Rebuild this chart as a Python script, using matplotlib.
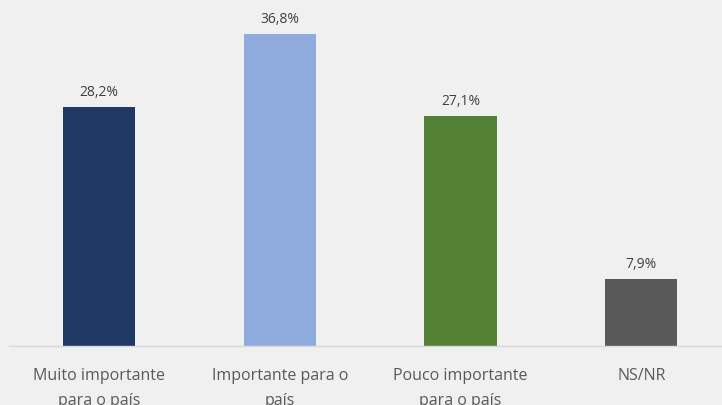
import matplotlib.pyplot as plt
import numpy as np

# dados
categorias = ["Muito importante\npara o país", "Importante para o\npaís",
              "Pouco importante\npara o país", "NS/NR"]
valores = [28.2, 36.8, 27.1, 7.9]
cores = ["#203864", "#8faadc", "#548235", "#595959"]

plt.rcParams['font.family'] = ['Open Sans', 'DejaVu Sans']

fig = plt.figure(figsize=(7.22, 4.05), dpi=100, facecolor="#f0f0f0")
ax = fig.add_axes([8.7 / 722, 59 / 405, 723 / 722, 339 / 405])
ax.set_facecolor("#f0f0f0")

x = np.arange(len(categorias))
ax.bar(x, valores, width=0.4, color=cores, zorder=2)

for xi, v in zip(x, valores):
    ax.annotate(f"{v:.1f}%".replace(".", ","), (xi, v), xytext=(0, 5),
                textcoords="offset points", ha="center", va="bottom",
                fontsize=10, color="#404040")

ax.set_xlim(-0.5, 3.5)
ax.set_ylim(0, 40)
ax.set_xticks(x)
ax.set_xticklabels(categorias, fontsize=11.5, color="#595959", linespacing=1.75)
ax.tick_params(axis="x", length=0, pad=15.5)
ax.set_yticks([])
for s in ["top", "right", "left"]:
    ax.spines[s].set_visible(False)
ax.spines["bottom"].set_color("#d9d9d9")
ax.spines["bottom"].set_linewidth(1)

fig.savefig("out.png", dpi=100, facecolor=fig.get_facecolor())
